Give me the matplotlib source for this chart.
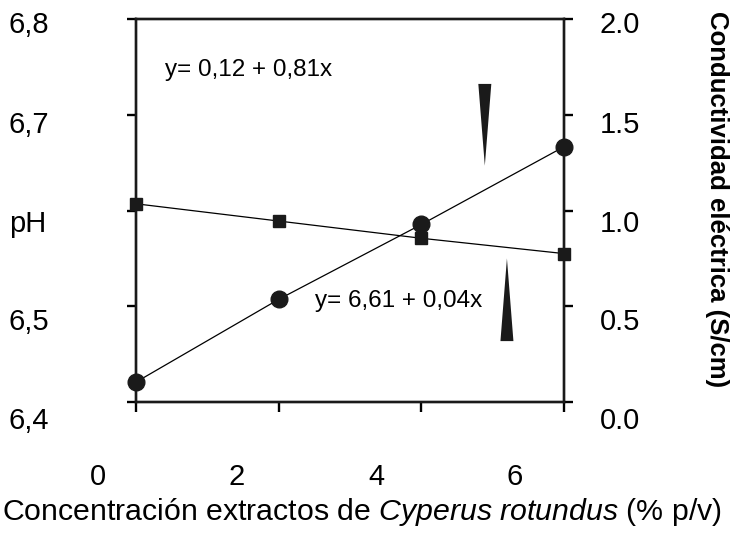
import matplotlib.pyplot as plt
from matplotlib.transforms import ScaledTranslation

# datos
conc = [0, 2, 4, 6]
ph = [6.607, 6.589, 6.571, 6.555]
cond = [0.104, 0.536, 0.927, 1.333]

x_ticks = [0, 2, 4, 6]
x_labels = ['0', '2', '4', '6']
ph_ticks = [6.4, 6.5, 6.6, 6.7, 6.8]
ph_labels = ['6,4', '6,5', 'pH', '6,7', '6,8']
cond_ticks = [0.0, 0.5, 1.0, 1.5, 2.0]
cond_labels = ['0.0', '0.5', '1.0', '1.5', '2.0']

eq_cond = 'y= 0,12 + 0,81x'
eq_ph = 'y= 6,61 + 0,04x'

plt.rcParams['font.family'] = ['Liberation Sans', 'DejaVu Sans']
plt.rcParams['mathtext.fontset'] = 'custom'
plt.rcParams['mathtext.rm'] = 'Liberation Sans'
plt.rcParams['mathtext.it'] = 'Liberation Sans:italic'

W, H = 736, 544
fig = plt.figure(figsize=(W / 100, H / 100), dpi=100)
ax = fig.add_axes([136 / W, 1 - 402 / H, (564 - 136) / W, (402 - 19) / H])
ax2 = ax.twinx()

# pH (cuadrados, eje izquierdo)
ax.plot(conc, ph, color='black', lw=0.9, marker='s', ms=9, mfc='#1a1a1a',
        mec='#1a1a1a', clip_on=False, zorder=3)
# conductividad (círculos, eje derecho)
ax2.plot(conc, cond, color='black', lw=0.9, marker='o', ms=12, mfc='#1a1a1a',
         mec='#1a1a1a', clip_on=False, zorder=3)

ax.set_xlim(0, 6)
ax.set_ylim(6.4, 6.8)
ax2.set_ylim(0, 2.0)

for a in (ax, ax2):
    for s in a.spines.values():
        s.set_linewidth(1.7)
        s.set_color('#1a1a1a')

ax.set_xticks(x_ticks, x_labels)
ax.set_yticks(ph_ticks, ph_labels)
ax2.set_yticks(cond_ticks, cond_labels)

ax.tick_params(axis='x', direction='out', length=7, width=1.7, labelsize=21, pad=37)
ax.tick_params(axis='y', direction='out', length=6.5, width=1.7, labelsize=21, pad=85)
ax2.tick_params(axis='y', direction='out', length=6.5, width=1.7, labelsize=21, pad=19)

# etiquetas desplazadas como en la figura original
dx_x = [-38, -42, -45, -49]
for lab, dx in zip(ax.get_xticklabels(), dx_x):
    lab.set_transform(lab.get_transform() + ScaledTranslation(dx / 100, 0, fig.dpi_scale_trans))
dy_y = [16, 13, 10, 7, 3]
for lab, dy in zip(ax.get_yticklabels(), dy_y):
    lab.set_ha('left')
    lab.set_transform(lab.get_transform() + ScaledTranslation(0, -dy / 100, fig.dpi_scale_trans))
for lab, dy in zip(ax2.get_yticklabels(), dy_y):
    lab.set_transform(lab.get_transform() + ScaledTranslation(0, -dy / 100, fig.dpi_scale_trans))

# ecuaciones
ax.text(0.068, 0.867, eq_cond, transform=ax.transAxes, fontsize=17.5, va='center', ha='left')
ax.text(0.418, 0.264, eq_ph, transform=ax.transAxes, fontsize=17.5, va='center', ha='left')

# flechas en cuña (punta, base) en coordenadas del eje derecho
hw = 0.091
ax2.fill([4.89 - hw, 4.89 + hw, 4.89], [1.661, 1.661, 1.234], color='#1a1a1a', lw=0)
ax2.fill([5.20 - hw, 5.20 + hw, 5.20], [0.318, 0.318, 0.75], color='#1a1a1a', lw=0)

fig.text(362 / W, 1 - 512 / H,
         r'Concentración extractos de $\mathit{Cyperus\ rotundus}$ (% p/v)',
         fontsize=21.8, ha='center', va='center')
fig.text(717 / W, 1 - 199 / H, 'Conductividad eléctrica (S/cm)', rotation=270,
         fontsize=18.5, fontweight='bold', ha='center', va='center')

fig.savefig('out.png', dpi=100)
